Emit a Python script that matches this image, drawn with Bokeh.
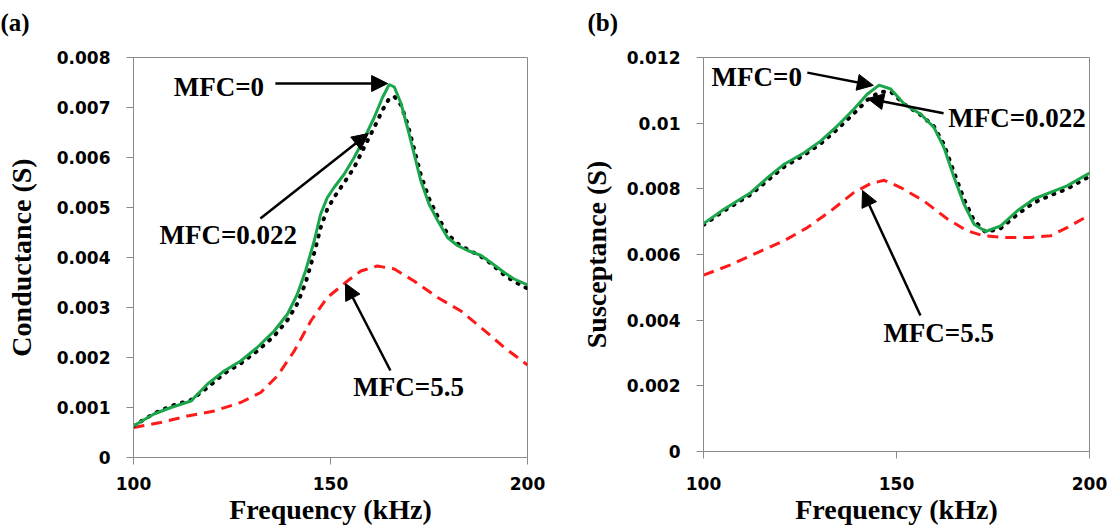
from bokeh.plotting import figure
from bokeh.layouts import row
from bokeh.models import Range1d, FixedTicker, NumeralTickFormatter, Label, Arrow, NormalHead, Title
from bokeh.embed import file_html
from bokeh.resources import INLINE

# ---- data: panel (a) conductance ----
freq_a = [100, 105.2, 109.5, 114.6, 118.8, 123, 127.2, 131.4, 135.7, 139.1, 141.6, 143.7, 145.9, 147.5,
          149.2, 150.9, 153.5, 156, 158.5, 161.1, 163.2, 164.9, 166.2, 167.9, 169.5, 171.2, 172.9, 175,
          177.2, 179.7, 182.2, 184.8, 188.2, 190.7, 194.1, 196.6, 200]
g_mfc0 = [0.00063, 0.00087, 0.00100, 0.00113, 0.00147, 0.00173, 0.00193, 0.00220, 0.00253, 0.00287,
          0.00327, 0.00374, 0.00434, 0.00487, 0.00520, 0.00540, 0.00567, 0.00600, 0.00637, 0.00680,
          0.00720, 0.00746, 0.00741, 0.00708, 0.00661, 0.00608, 0.00554, 0.00507, 0.00474, 0.00440,
          0.00424, 0.00414, 0.00404, 0.00390, 0.00370, 0.00357, 0.00345]
g_mfc0022 = [0.00063, 0.00088, 0.00103, 0.00115, 0.00140, 0.00168, 0.00188, 0.00213, 0.00243, 0.00275,
             0.00308, 0.00350, 0.00410, 0.00460, 0.00497, 0.00520, 0.00550, 0.00580, 0.00620, 0.00660,
             0.00695, 0.00718, 0.00722, 0.00705, 0.00668, 0.00618, 0.00566, 0.00518, 0.00482, 0.00447,
             0.00428, 0.00416, 0.00402, 0.00388, 0.00365, 0.00352, 0.00338]
freq_a_r = [100, 106.9, 113.7, 120.5, 127.2, 132.3, 136.5, 140.8, 145, 149.2, 154.3, 157.7, 161.9,
            166.2, 171.2, 177.2, 183.1, 188.2, 194.1, 200]
g_mfc55 = [0.00060, 0.00070, 0.00083, 0.00093, 0.00110, 0.00130, 0.00163, 0.00213, 0.00273, 0.00320,
           0.00353, 0.00373, 0.00383, 0.00377, 0.00353, 0.00320, 0.00293, 0.00260, 0.00220, 0.00185]

# ---- data: panel (b) susceptance ----
freq_b = [100, 105.3, 112.3, 116.6, 120.9, 126.1, 130.4, 134.7, 139, 142.4, 145.5, 148.5, 152, 156.3,
          159.7, 162.3, 164.9, 167.5, 170.1, 173.1, 177, 181.3, 185.6, 189.9, 194.2, 200]
b_mfc0 = [0.00694, 0.00738, 0.00789, 0.00834, 0.00875, 0.00910, 0.00946, 0.00992, 0.01043, 0.01088,
          0.01116, 0.01104, 0.01058, 0.01027, 0.00987, 0.00926, 0.00835, 0.00753, 0.00692, 0.00670,
          0.00687, 0.00733, 0.00769, 0.00789, 0.00809, 0.00848]
b_mfc0022 = [0.00690, 0.00733, 0.00783, 0.00826, 0.00867, 0.00903, 0.00938, 0.00982, 0.01030, 0.01070,
             0.01095, 0.01096, 0.01058, 0.01025, 0.00990, 0.00935, 0.00850, 0.00768, 0.00703, 0.00668,
             0.00680, 0.00722, 0.00758, 0.00780, 0.00800, 0.00838]
freq_b_r = [100, 107.1, 114, 120.9, 126.9, 133, 139, 143.3, 146.8, 151.1, 157.1, 163.2, 168.3, 172.6,
            177.8, 184.7, 189.9, 194.2, 200]
b_mfc55 = [0.00537, 0.00569, 0.00606, 0.00642, 0.00682, 0.00733, 0.00789, 0.00816, 0.00826, 0.00804,
           0.00763, 0.00708, 0.00672, 0.00657, 0.00652, 0.00652, 0.00657, 0.00682, 0.00720]

x_ticks = [100, 150, 200]
y_ticks_a = [0, 0.001, 0.002, 0.003, 0.004, 0.005, 0.006, 0.007, 0.008]
y_ticks_b = [0, 0.002, 0.004, 0.006, 0.008, 0.01, 0.012]

GREEN = "#1ba64c"
RED = "#ff1a1a"
GRAY = "#8a8a8a"
SERIF = "Liberation Serif"


def make_fig(width, mbl, mbr, mbb, ymax, yticks, ylabel, lab_std, axlab_std, yaxlab_std,
             panel, title_off):
    p = figure(width=width, height=527, output_backend="svg", toolbar_location=None,
               title=None,
               x_range=Range1d(100, 200), y_range=Range1d(0, ymax),
               min_border_left=mbl, min_border_right=mbr, min_border_top=57, min_border_bottom=mbb)
    p.frame_align = False
    p.grid.visible = False
    p.outline_line_color = GRAY
    p.outline_line_width = 1
    p.xaxis.ticker = FixedTicker(ticks=x_ticks)
    p.yaxis.ticker = FixedTicker(ticks=yticks)
    p.yaxis.formatter = NumeralTickFormatter(format="0.[000]")
    for ax in (p.xaxis, p.yaxis):
        ax.axis_line_color = GRAY
        ax.major_tick_line_color = GRAY
        ax.minor_tick_line_color = None
        ax.major_tick_out = 7
        ax.major_tick_in = 0
        ax.major_label_text_font = "DejaVu Sans"
        ax.major_label_text_font_style = "bold"
        ax.major_label_text_font_size = "17px"
        ax.major_label_text_color = "black"
        ax.axis_label_text_font = SERIF
        ax.axis_label_text_font_style = "bold"
        ax.axis_label_text_font_size = "28px"
        ax.axis_label_text_color = "black"
        ax.axis_label_text_line_height = 1.0
    p.xaxis.axis_label = "Frequency (kHz)"
    p.yaxis.axis_label = ylabel
    p.yaxis.major_label_standoff = 16
    p.yaxis.axis_label_standoff = yaxlab_std
    p.xaxis.major_label_standoff = lab_std
    p.xaxis.axis_label_standoff = axlab_std
    # spacer panel next to the frame, then the panel tag "(a)"/"(b)" above it
    p.add_layout(Title(text=" ", text_font_size="1px", standoff=19), "above")
    p.add_layout(Title(text=panel, align="left", offset=title_off, text_font=SERIF,
                       text_font_style="bold", text_font_size="25px", text_color="black",
                       standoff=0), "above")
    return p


def add_text(p, x, y, txt):
    p.add_layout(Label(x=x, y=y, text=txt, text_font=SERIF, text_font_style="bold",
                       text_font_size="27px", text_baseline="middle", text_align="left",
                       text_color="black"))


def add_arrow(p, x0, y0, x1, y1):
    p.add_layout(Arrow(end=NormalHead(size=16, fill_color="black", line_color="black"),
                       x_start=x0, y_start=y0, x_end=x1, y_end=y1,
                       line_color="black", line_width=2.5))


# ---- panel (a) ----
p1 = make_fig(560, 133, 33, 70, 0.008, y_ticks_a, "Conductance (S)", 12, 1, 17, "(a)", -133)
p1.line(freq_a_r, g_mfc55, line_color=RED, line_width=3, line_dash="11 7")
p1.line(freq_a, g_mfc0022, line_color="black", line_width=4, line_dash="1 8", line_cap="round")
p1.line(freq_a, g_mfc0, line_color=GREEN, line_width=3)
add_text(p1, 110.2, 0.00742, "MFC=0")
add_arrow(p1, 136, 0.00748, 164.5, 0.00748)
add_text(p1, 106.6, 0.00446, "MFC=0.022")
add_arrow(p1, 132.2, 0.00478, 159.6, 0.00648)
add_text(p1, 155.8, 0.00142, "MFC=5.5")
add_arrow(p1, 165.2, 0.00174, 153.8, 0.00348)

# ---- panel (b) ----
p2 = make_fig(553, 143, 24, 76, 0.012, y_ticks_b, "Susceptance (S)", 18, 1, 12, "(b)", -116)
p2.line(freq_b_r, b_mfc55, line_color=RED, line_width=3, line_dash="11 7")
p2.line(freq_b, b_mfc0022, line_color="black", line_width=4, line_dash="1 8", line_cap="round")
p2.line(freq_b, b_mfc0, line_color=GREEN, line_width=3)
add_text(p2, 102.1, 0.01142, "MFC=0")
add_arrow(p2, 126.9, 0.01154, 144, 0.01115)
add_text(p2, 163.4, 0.01017, "MFC=0.022")
add_arrow(p2, 162.2, 0.0103, 142.5, 0.01075)
add_text(p2, 146.6, 0.00362, "MFC=5.5")
add_arrow(p2, 156.2, 0.00414, 141.2, 0.00795)

layout = row(p1, p2, spacing=0)
open("out.html", "w").write(file_html(layout, INLINE))
